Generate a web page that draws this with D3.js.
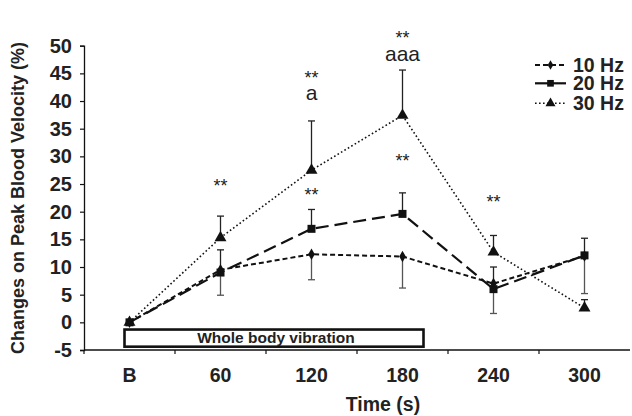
<!DOCTYPE html>
<html>
<head>
<meta charset="utf-8">
<script src="https://cdn.jsdelivr.net/npm/d3@7"></script>
<style>
  body { margin: 0; background: #fff; }
  text { font-family: "Liberation Sans", Arial, Helvetica, sans-serif; }
</style>
</head>
<body>
<div id="chart"></div>
<script>
// data
var categories = ["B", "60", "120", "180", "240", "300"];
var seriesNames = ["10 Hz", "20 Hz", "30 Hz"];
var hz10 = [0, 9.5, 12.3, 11.9, 7.0, 12.0];
var hz20 = [0, 9.0, 16.9, 19.6, 6.0, 12.1];
var hz30 = [0, 15.3, 27.5, 37.4, 12.7, 2.6];
var err10 = [0, 4.6, 4.6, 5.7, 5.4, 6.8];   // drawn downward
var err20 = [0, 4.1, 3.5, 3.8, 4.0, 3.1];   // drawn upward
var err30 = [0, 3.9, 8.9, 8.2, 3.0, 1.5];   // drawn upward
var yTicks = [-5, 0, 5, 10, 15, 20, 25, 30, 35, 40, 45, 50];
var annotations = [
  {cat: "60", v: 23.6, t: "**"},
  {cat: "120", v: 43.1, t: "**"},
  {cat: "120", v: 40.1, t: "a", big: true},
  {cat: "120", v: 22.0, t: "**"},
  {cat: "180", v: 50.3, t: "**"},
  {cat: "180", v: 47.3, t: "aaa", big: true},
  {cat: "180", v: 28.1, t: "**"},
  {cat: "240", v: 20.7, t: "**"}
];

var W = 632, H = 416;
var svg = d3.select("#chart").append("svg")
    .attr("width", W)
    .attr("height", H);

var x = d3.scaleBand().domain(categories).range([84, 630]);
var y = d3.scaleLinear().domain([-5, 50]).range([350, 45.7]);
var cx = function(c) { return x(c) + x.bandwidth() / 2; };

// y axis
var yAxis = d3.axisLeft(y).tickValues(yTicks).tickSize(4).tickPadding(8)
    .tickFormat(function(d) { return String(d); });
var gy = svg.append("g")
    .attr("transform", "translate(84,0)")
    .call(yAxis);
gy.select(".domain").attr("stroke", "#111").attr("stroke-width", 1.3);
gy.selectAll(".tick line").attr("stroke", "#111").attr("stroke-width", 1.2);
gy.selectAll(".tick text")
    .attr("fill", "#222")
    .style("font-size", "20px")
    .style("font-weight", "bold");

// x axis: line with ticks on band edges
svg.append("line")
    .attr("x1", 84).attr("x2", 630)
    .attr("y1", y(-5)).attr("y2", y(-5))
    .attr("stroke", "#111").attr("stroke-width", 1.3);
var edges = categories.map(function(c) { return x(c); });
svg.selectAll(".xtick").data(edges).enter().append("line")
    .attr("class", "xtick")
    .attr("x1", function(d) { return d; }).attr("x2", function(d) { return d; })
    .attr("y1", y(-5)).attr("y2", y(-5) + 4)
    .attr("stroke", "#111").attr("stroke-width", 1.2);
svg.selectAll(".xlab").data(categories).enter().append("text")
    .attr("class", "xlab")
    .attr("x", cx)
    .attr("y", 382)
    .attr("text-anchor", "middle")
    .attr("fill", "#222")
    .style("font-size", "19.5px")
    .style("font-weight", "bold")
    .text(function(d) { return d; });

svg.append("text")
    .attr("x", 383).attr("y", 411)
    .attr("text-anchor", "middle")
    .attr("fill", "#222")
    .style("font-size", "19.5px")
    .style("font-weight", "bold")
    .text("Time (s)");

svg.append("text")
    .attr("transform", "translate(24,198) rotate(-90)")
    .attr("text-anchor", "middle")
    .attr("fill", "#222")
    .style("font-size", "18px")
    .style("font-weight", "bold")
    .text("Changes on Peak Blood Velocity (%)");

// whole body vibration box
var bx0 = cx("B") - 5, bx1 = cx("180") + 21;
svg.append("rect")
    .attr("x", bx0).attr("y", y(-1.3))
    .attr("width", bx1 - bx0).attr("height", y(-4.4) - y(-1.3))
    .attr("fill", "#fff").attr("stroke", "#111").attr("stroke-width", 2.6);
svg.append("text")
    .attr("x", 276).attr("y", 343)
    .attr("text-anchor", "middle")
    .attr("fill", "#222")
    .style("font-size", "15.5px")
    .style("font-weight", "bold")
    .text("Whole body vibration");

// error bars
function errBars(vals, errs, dir, color) {
  var d = categories.map(function(c, i) { return {c: c, v: vals[i], e: errs[i]}; })
      .filter(function(p) { return p.e > 0; });
  var g = svg.append("g").attr("stroke", color).attr("stroke-width", 1.3);
  g.selectAll(".eb").data(d).enter().append("line")
      .attr("x1", function(p) { return cx(p.c); }).attr("x2", function(p) { return cx(p.c); })
      .attr("y1", function(p) { return y(p.v); })
      .attr("y2", function(p) { return y(p.v + dir * p.e); });
  g.selectAll(".cap").data(d).enter().append("line")
      .attr("x1", function(p) { return cx(p.c) - 3.5; }).attr("x2", function(p) { return cx(p.c) + 3.5; })
      .attr("y1", function(p) { return y(p.v + dir * p.e); })
      .attr("y2", function(p) { return y(p.v + dir * p.e); });
}
errBars(hz10, err10, -1, "#555");
errBars(hz20, err20, 1, "#222");
errBars(hz30, err30, 1, "#222");

// series lines and markers
var series = [
  {name: seriesNames[0], vals: hz10, dash: "5,3", w: 2, sym: d3.symbolDiamond, size: 38},
  {name: seriesNames[1], vals: hz20, dash: "13,6", w: 2.2, sym: d3.symbolSquare, size: 64},
  {name: seriesNames[2], vals: hz30, dash: "1.6,2.4", w: 1.6, sym: d3.symbolTriangle, size: 62}
];
var line = d3.line()
    .x(function(d, i) { return cx(categories[i]); })
    .y(function(d) { return y(d); });

series.forEach(function(s) {
  svg.append("path")
      .datum(s.vals)
      .attr("fill", "none")
      .attr("stroke", "#111")
      .attr("stroke-width", s.w)
      .attr("stroke-dasharray", s.dash)
      .attr("d", line);
});
series.forEach(function(s) {
  svg.selectAll(null).data(s.vals).enter().append("path")
      .attr("transform", function(d, i) { return "translate(" + cx(categories[i]) + "," + y(d) + ")"; })
      .attr("d", d3.symbol().type(s.sym).size(s.size))
      .attr("fill", "#111");
});

// significance marks
svg.selectAll(".ann").data(annotations).enter().append("text")
    .attr("class", "ann")
    .attr("x", function(d) { return cx(d.cat); })
    .attr("y", function(d) { return y(d.v); })
    .attr("text-anchor", "middle")
    .attr("fill", "#222")
    .style("font-size", function(d) { return d.big ? "21px" : "18px"; })
    .text(function(d) { return d.t; });

// legend
var leg = svg.append("g").attr("transform", "translate(535,65)");
series.forEach(function(s, i) {
  var ly = [0, 18.3, 38.3][i];
  leg.append("line")
      .attr("x1", 0).attr("x2", 31).attr("y1", ly).attr("y2", ly)
      .attr("stroke", "#111").attr("stroke-width", s.w)
      .attr("stroke-dasharray", i == 1 ? "none" : s.dash);
  leg.append("path")
      .attr("transform", "translate(15.5," + ly + ")")
      .attr("d", d3.symbol().type(s.sym).size(s.size * 0.7))
      .attr("fill", "#111");
  leg.append("text")
      .attr("x", 38).attr("y", ly + 6.8)
      .attr("fill", "#222")
      .style("font-size", "19.5px")
      .style("font-weight", "bold")
      .text(s.name);
});
</script>
</body>
</html>
